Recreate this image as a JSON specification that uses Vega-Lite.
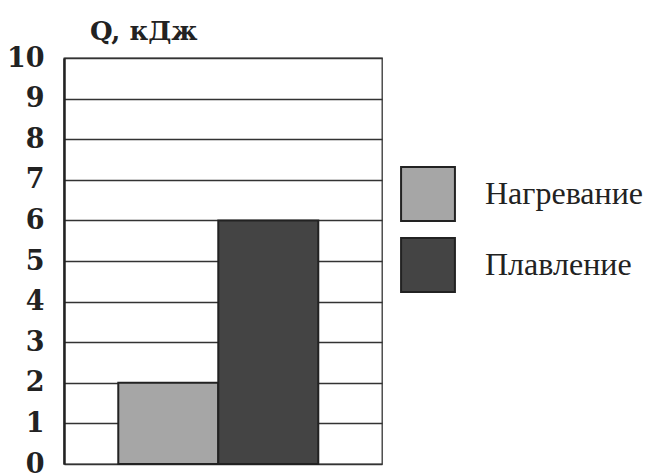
{
  "$schema": "https://vega.github.io/schema/vega-lite/v6.json",
  "autosize": {"type": "none"},
  "padding": {"left": 64, "top": 58, "right": 269, "bottom": 12},
  "width": 318,
  "height": 406,
  "background": "white",
  "title": {
    "text": "Q, кДж",
    "anchor": "start",
    "frame": "group",
    "dx": 26,
    "offset": -1,
    "font": "DejaVu Serif",
    "fontSize": 26,
    "fontWeight": "bold",
    "color": "#222"
  },
  "data": {
    "values": [
      {"process": "Нагревание", "Q": 2},
      {"process": "Плавление", "Q": 6}
    ]
  },
  "mark": {"type": "bar", "stroke": "#222", "strokeWidth": 2},
  "encoding": {
    "x": {
      "field": "process",
      "type": "nominal",
      "sort": null,
      "scale": {"paddingInner": 0, "paddingOuter": 0.59, "align": 0.46},
      "axis": null
    },
    "y": {
      "field": "Q",
      "type": "quantitative",
      "scale": {"domain": [0, 10], "nice": false},
      "axis": {
        "values": [0, 1, 2, 3, 4, 5, 6, 7, 8, 9, 10],
        "title": null,
        "ticks": false,
        "labelPadding": 20,
        "labelFont": "DejaVu Serif",
        "labelFontWeight": "bold",
        "labelFontSize": 27,
        "labelColor": "#222",
        "labelBaseline": "middle",
        "domainColor": "#222",
        "domainWidth": 2.5,
        "grid": true,
        "gridColor": "#333",
        "gridWidth": 1.3,
        "gridOpacity": 1
      }
    },
    "color": {
      "field": "process",
      "type": "nominal",
      "sort": null,
      "scale": {"range": ["#a6a6a6", "#444444"]},
      "legend": {
        "title": null,
        "orient": "none",
        "legendX": 336,
        "legendY": 108,
        "symbolType": "square",
        "symbolSize": 2900,
        "symbolStrokeColor": "#222",
        "symbolStrokeWidth": 2,
        "symbolOpacity": 1,
        "rowPadding": 9,
        "labelOffset": 29,
        "labelFont": "Liberation Serif",
        "labelFontSize": 32,
        "labelColor": "#222",
        "labelLimit": 300
      }
    }
  },
  "config": {
    "view": {"stroke": "#333", "strokeWidth": 1.3}
  }
}
